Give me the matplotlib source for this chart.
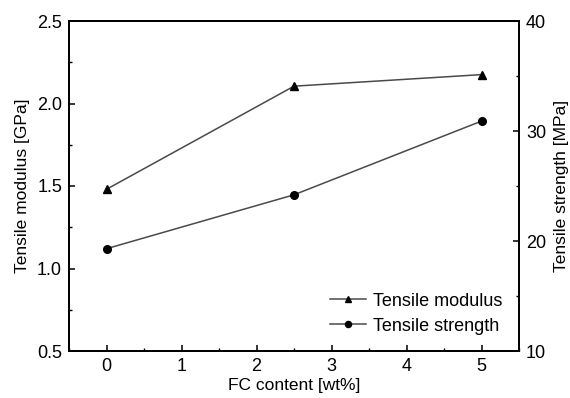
"""FC content vs tensile properties, dual axis."""

import matplotlib

matplotlib.use("Agg")
from matplotlib import pyplot as plt  # noqa: E402
from matplotlib.ticker import MultipleLocator  # noqa: E402

fc_content = [0, 2.5, 5]
tensile_modulus = [1.48, 2.105, 2.175]
tensile_strength = [19.3, 24.2, 30.9]

_LINE_COLOR = "#4a4a4a"
_MARK_COLOR = "black"
_FONT = "Liberation Sans"

plt.rcParams["font.family"] = [_FONT, "DejaVu Sans"]
plt.rcParams["font.size"] = 13

fig = plt.figure(figsize=(5.7, 3.98), dpi=100)
ax = fig.add_axes([69 / 570, 1 - 351 / 398, 450 / 570, 330 / 398])
ax2 = ax.twinx()

(l1,) = ax.plot(
    fc_content, tensile_modulus, color=_LINE_COLOR, linewidth=1.1,
    marker="^", markersize=6, markerfacecolor=_MARK_COLOR,
    markeredgecolor=_MARK_COLOR, label="Tensile modulus",
)
(l2,) = ax2.plot(
    fc_content, tensile_strength, color=_LINE_COLOR, linewidth=1.1,
    marker="o", markersize=5.5, markerfacecolor=_MARK_COLOR,
    markeredgecolor=_MARK_COLOR, label="Tensile strength",
)

ax.set_xlim(-0.5, 5.5)
ax.set_ylim(0.5, 2.5)
ax2.set_ylim(10, 40)

ax.xaxis.set_major_locator(MultipleLocator(1))
ax.xaxis.set_minor_locator(MultipleLocator(0.5))
ax.yaxis.set_major_locator(MultipleLocator(0.5))
ax.yaxis.set_minor_locator(MultipleLocator(0.25))
ax2.yaxis.set_major_locator(MultipleLocator(10))
ax2.yaxis.set_minor_locator(MultipleLocator(5))

for a in (ax, ax2):
    for spine in a.spines.values():
        spine.set_linewidth(1.3)
    a.tick_params(which="major", direction="in", length=4, width=1.1, pad=5)
    a.tick_params(which="minor", direction="in", length=2.5, width=1.0)
ax.tick_params(axis="x", which="both", top=False)
ax.tick_params(axis="y", which="both", right=False)

ax.set_xlabel("FC content [wt%]", fontsize=12.5, labelpad=2)
ax.set_ylabel("Tensile modulus [GPa]", fontsize=12.5, labelpad=5)
ax2.set_ylabel("Tensile strength [MPa]", fontsize=12.5, labelpad=6)

ax2.legend(
    [l1, l2], ["Tensile modulus", "Tensile strength"],
    loc="lower right", bbox_to_anchor=(1.0, 0.0), frameon=False,
    fontsize=13, handlelength=2.0, handletextpad=0.4, labelspacing=0.45,
    markerscale=0.8,
)

fig.savefig("out.png", dpi=100)
plt.close(fig)
